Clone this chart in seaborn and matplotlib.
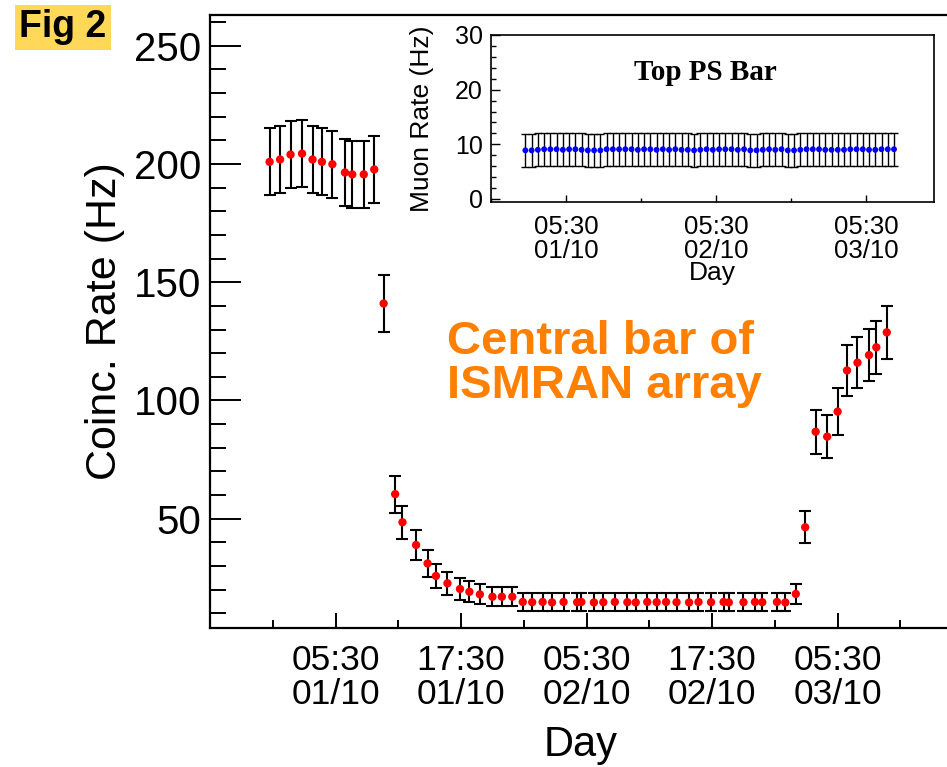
import numpy as np
import pandas as pd
import matplotlib
matplotlib.use("Agg")
import matplotlib.pyplot as plt
from matplotlib.ticker import MultipleLocator
import seaborn as sns

# ---------------- data (hours after 05:30 01/10) ----------------
hours_main = [-6.3, -5.3, -4.3, -3.2, -2.2, -1.3, -0.3, 0.9, 1.6, 2.7, 3.7,
              4.6,
              5.7, 6.4, 7.7, 8.8, 9.6, 10.7, 11.9, 12.8, 13.8, 15.0, 15.9, 16.9,
              17.9, 18.8, 19.8, 20.7, 21.8, 23.1, 23.5, 24.7, 25.6, 26.7, 27.9,
              28.7, 29.8, 30.7, 31.6, 32.6, 33.8, 34.7, 35.9, 37.1, 37.6, 39.0,
              40.1, 40.8, 42.2, 43.0,
              44.0, 44.9, 45.9, 47.0, 48.0, 48.9, 49.9, 51.0, 51.7, 52.7]
rate_main = [200.9, 201.9, 204.0, 204.4, 201.9, 200.9, 199.9, 196.4, 195.6, 195.6, 197.7,
             141.0,
             60.4, 48.5, 38.9, 31.1, 25.8, 22.7, 20.3, 19.1, 18.0, 17.0, 17.0, 17.0,
             14.8, 14.7, 14.8, 14.6, 14.8, 14.7, 14.8, 14.6, 14.7, 14.8, 14.7,
             14.6, 14.8, 14.7, 14.8, 14.7, 14.6, 14.8, 14.7, 14.8, 14.6, 14.7,
             14.8, 14.7, 14.8, 14.6,
             18.2, 46.4, 86.8, 84.7, 95.3, 112.7, 116.0, 119.2, 122.5, 128.8]
err_main = [14.2, 14.2, 14.3, 14.3, 14.2, 14.2, 14.1, 14.0, 14.0, 14.0, 14.1,
            11.9,
            7.8, 7.0, 6.2, 5.6, 5.1, 4.8, 4.5, 4.4, 4.2, 4.1, 4.1, 4.1,
            3.8, 3.8, 3.8, 3.8, 3.8, 3.8, 3.8, 3.8, 3.8, 3.8, 3.8,
            3.8, 3.8, 3.8, 3.8, 3.8, 3.8, 3.8, 3.8, 3.8, 3.8, 3.8,
            3.8, 3.8, 3.8, 3.8,
            4.3, 6.8, 9.3, 9.2, 9.8, 10.6, 10.8, 10.9, 11.1, 11.3]

hours_inset = [-6.5, -5.5, -4.5, -3.5, -2.5, -1.5, -0.5, 0.5, 1.5, 2.5,
               3.5, 4.5, 5.5, 6.5, 7.5, 8.5, 9.5, 10.5, 11.5, 12.5,
               13.5, 14.5, 15.5, 16.5, 17.5, 18.5, 19.5, 20.5, 21.5, 22.5,
               23.5, 24.5, 25.5, 26.5, 27.5, 28.5, 29.5, 30.5, 31.5, 32.5,
               33.5, 34.5, 35.5, 36.5, 37.5, 38.5, 39.5, 40.5, 41.5, 42.5,
               43.5, 44.5, 45.5, 46.5, 47.5, 48.5, 49.5, 50.5, 51.5, 52.5]
rate_inset = [8.9, 8.9, 9.0, 9.1, 9.1, 9.1, 9.0, 9.1, 9.1, 9.0,
              8.9, 8.9, 8.9, 9.1, 9.1, 9.1, 9.1, 9.1, 9.0, 9.1,
              9.1, 9.0, 9.1, 9.0, 9.1, 9.0, 9.0, 8.9, 9.0, 9.1,
              9.0, 9.1, 9.1, 9.1, 9.0, 9.1, 8.9, 8.9, 9.0, 9.1,
              9.0, 9.1, 8.9, 8.9, 9.0, 9.1, 9.1, 9.1, 9.0, 9.0,
              9.0, 9.0, 9.1, 9.1, 9.1, 9.0, 9.0, 9.1, 9.1, 9.1]
err_inset = [3.0] * 60

main_major_ticks = [0, 12, 24, 36, 48]
main_tick_labels = ["05:30\n01/10", "17:30\n01/10", "05:30\n02/10",
                    "17:30\n02/10", "05:30\n03/10"]
inset_major_ticks = [0, 24, 48]
inset_tick_labels = ["05:30\n01/10", "05:30\n02/10", "05:30\n03/10"]

# ---------------- styling ----------------
sns.set_theme(style="ticks")
plt.rcParams['font.family'] = ['Liberation Sans', 'DejaVu Sans']

W, H = 947, 767
fig = plt.figure(figsize=(W / 100, H / 100), dpi=100)


def rect(l, t, r, b):
    return [l / W, 1 - b / H, (r - l) / W, (b - t) / H]


# ---------------- main axes ----------------
ax = fig.add_axes(rect(210, 15, 953, 627.5))
df_main = pd.DataFrame({"hours": hours_main, "rate": rate_main, "err": err_main})
ax.errorbar(df_main["hours"], df_main["rate"], yerr=df_main["err"], fmt='none',
            ecolor='black', elinewidth=1.5, capsize=4.5, capthick=1.5, zorder=2)
sns.scatterplot(data=df_main, x="hours", y="rate", ax=ax, color='#ff0000',
                marker='o', s=36, edgecolor='none', linewidth=0, zorder=3,
                legend=False)
ax.set_xlim(-12, 59.03)
ax.set_ylim(4, 263)
for s in ax.spines.values():
    s.set_linewidth(1.6)
    s.set_color('black')
ax.yaxis.set_major_locator(MultipleLocator(50))
ax.yaxis.set_minor_locator(MultipleLocator(10))
ax.set_xticks(main_major_ticks, main_tick_labels)
ax.xaxis.set_minor_locator(MultipleLocator(6))
ax.tick_params(axis='y', which='major', direction='in', length=22, width=1.4,
               color='black', labelsize=29, pad=6, labelcolor='black')
ax.tick_params(axis='y', which='minor', direction='in', length=11.5, width=1.4,
               color='black')
ax.tick_params(axis='x', which='major', direction='in', length=11, width=1.4,
               color='black', labelsize=25.5, pad=12, labelcolor='black')
ax.tick_params(axis='x', which='minor', direction='in', length=6, width=1.4,
               color='black')
for lbl in ax.get_xticklabels():
    lbl.set_linespacing(1.05)
ax.set_ylabel("Coinc. Rate (Hz)", fontsize=31, color='black', va='center')
ax.yaxis.set_label_coords((105 - 210) / 743, 0.5)
ax.set_xlabel("Day", fontsize=30, color='black', va='center')
ax.xaxis.set_label_coords(0.4993, -(745 - 627.5) / 612.5)

fig.text(447 / W, 1 - 363.5 / H, "Central bar of\nISMRAN array", ha='left',
         va='center', fontsize=34, fontweight='bold', color='#ff8000',
         linespacing=1.0)

fig.text(63 / W, 1 - 27 / H, "Fig 2", ha='center', va='center', fontsize=27,
         fontweight='bold', color='black',
         bbox=dict(boxstyle='square,pad=0.12', fc='#ffd85a', ec='none'))

# ---------------- inset ----------------
axi = fig.add_axes(rect(491, 35, 934, 202))
axi.set_facecolor('white')
df_in = pd.DataFrame({"hours": hours_inset, "rate": rate_inset, "err": err_inset})
axi.errorbar(df_in["hours"], df_in["rate"], yerr=df_in["err"], fmt='none',
             ecolor='black', elinewidth=1.0, capsize=2.6, capthick=1.0, zorder=2)
sns.scatterplot(data=df_in, x="hours", y="rate", ax=axi, color='#0000ff',
                marker='o', s=18, edgecolor='none', linewidth=0, zorder=3,
                legend=False)
axi.set_xlim(-12, 58.9)
axi.set_ylim(-0.55, 30)
for s in axi.spines.values():
    s.set_linewidth(1.2)
    s.set_color('black')
axi.yaxis.set_major_locator(MultipleLocator(10))
axi.yaxis.set_minor_locator(MultipleLocator(2))
axi.set_xticks(inset_major_ticks, inset_tick_labels)
axi.xaxis.set_minor_locator(MultipleLocator(12))
axi.tick_params(axis='y', which='major', direction='in', length=6.5, width=1.0,
                color='black', labelsize=18, pad=6, labelcolor='black')
axi.tick_params(axis='y', which='minor', direction='in', length=3.5, width=1.0,
                color='black')
axi.tick_params(axis='x', which='major', direction='in', length=5, width=1.0,
                color='black', labelsize=18.5, pad=9, labelcolor='black')
axi.tick_params(axis='x', which='minor', direction='in', length=3, width=1.0,
                color='black')
for lbl in axi.get_xticklabels():
    lbl.set_linespacing(1.0)
axi.set_ylabel("Muon Rate (Hz)", fontsize=19, color='black', va='center')
axi.yaxis.set_label_coords((422 - 491) / 443, 0.5)
axi.set_xlabel("Day", fontsize=19, color='black', va='center')
axi.xaxis.set_label_coords(0.5, -(273 - 202) / 167)
axi.text(0.485, 0.778, "Top PS Bar", transform=axi.transAxes, ha='center',
         va='center', fontsize=21, fontweight='bold', color='black',
         family=['Liberation Serif', 'DejaVu Serif'])

fig.savefig("out.png", dpi=100)
